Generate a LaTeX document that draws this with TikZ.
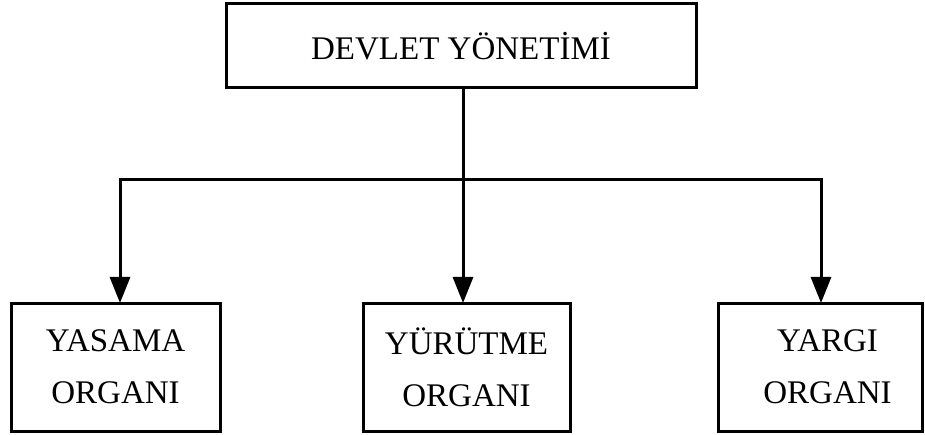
\documentclass[tikz,border=0pt]{standalone}
\usepackage{fontspec}
\setmainfont{Liberation Serif}
\usetikzlibrary{arrows.meta}
\begin{document}
\begin{tikzpicture}[x=1pt,y=-1pt,
  box/.style={draw,line width=3pt,inner sep=0pt,outer sep=0pt,align=center,
    font=\fontsize{33}{52}\selectfont},
  conn/.style={line width=3pt},
  arr/.style={conn,-{Triangle[length=26pt,width=20pt]}}]
\useasboundingbox (0,0) rectangle (925,435);
\node[box,minimum width=470,minimum height=84] (top) at (461,46) {DEVLET YÖNETİMİ};
\node[box,minimum width=209,minimum height=128] (yas) at (115.5,367) {YASAMA\\ORGANI};
\node[box,minimum width=207,minimum height=128] (yur) at (466.5,367) {YÜRÜTME\\ORGANI};
\node[box,minimum width=204,minimum height=128] (yar) at (820.5,367) {\hspace*{14pt}YARGI\\\hspace*{14pt}ORGANI};
\coordinate (j) at (463,180);
\coordinate (hl) at (120,180);
\coordinate (hr) at (821,180);
\draw[arr] (top.south -| j) -- (yur.north -| j);
\draw[conn,line cap=rect] (hl) -- (hr);
\draw[arr] (hl) -- (yas.north -| hl);
\draw[arr] (hr) -- (yar.north -| hr);
\end{tikzpicture}
\end{document}
